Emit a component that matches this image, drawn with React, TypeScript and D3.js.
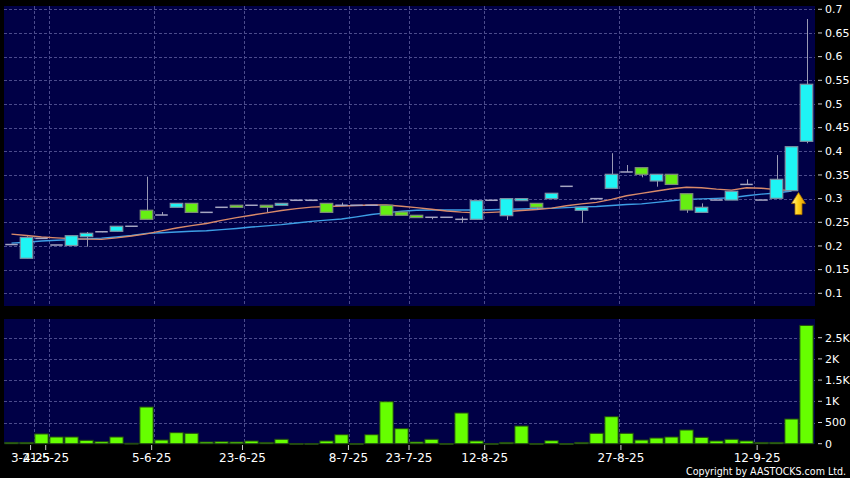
import React from 'react';
import * as d3 from 'd3';

if (typeof document !== 'undefined') {
  document.body.style.margin = '0';
  document.body.style.background = '#000';
}

// ---- data ----
const opens = [0.203,0.174,0.216,0.202,0.201,0.2196,0.230,0.231,0.2416,0.2754,
  0.2654,0.2817,0.290,0.271,0.2817,0.286,0.286,0.286,0.286,0.2965,
  0.2965,0.290,0.286,0.286,0.286,0.286,0.2717,0.2648,0.2606,0.2606,
  0.2563,0.2563,0.2965,0.264,0.2957,0.290,0.300,0.326,0.2754,0.300,
  0.3218,0.3563,0.3654,0.3373,0.3514,0.3104,0.271,0.297,0.297,0.330,
  0.297,0.3007,0.3168,0.4211];
const closes = [0.203,0.218,0.216,0.202,0.2217,0.2268,0.230,0.2416,0.2416,0.2563,
  0.2654,0.290,0.271,0.271,0.2817,0.2817,0.286,0.2817,0.290,0.2965,
  0.2965,0.271,0.286,0.286,0.286,0.2648,0.2648,0.260,0.2606,0.2606,
  0.2563,0.2957,0.2965,0.300,0.300,0.2817,0.3113,0.326,0.2817,0.300,
  0.3514,0.3563,0.3514,0.3514,0.330,0.276,0.2817,0.297,0.3155,0.330,
  0.297,0.3408,0.4097,0.5416];
const highs = [0.203,0.2205,0.216,0.202,0.2217,0.2295,0.230,0.2416,0.2416,0.3464,
  0.2717,0.290,0.290,0.271,0.2817,0.286,0.286,0.286,0.290,0.2965,
  0.2965,0.290,0.2915,0.286,0.286,0.286,0.2717,0.2648,0.2606,0.2606,
  0.2618,0.2957,0.2965,0.300,0.300,0.290,0.3113,0.326,0.2817,0.300,
  0.396,0.371,0.3654,0.3514,0.3514,0.3104,0.290,0.297,0.3155,0.3408,
  0.297,0.392,0.4097,0.6795];
const lows = [0.203,0.174,0.216,0.202,0.201,0.1985,0.229,0.231,0.2416,0.2563,
  0.2654,0.2817,0.271,0.271,0.2817,0.2817,0.286,0.2717,0.286,0.2965,
  0.2965,0.271,0.286,0.286,0.286,0.2648,0.2648,0.260,0.2563,0.2606,
  0.249,0.2563,0.2965,0.2549,0.2957,0.276,0.300,0.326,0.249,0.300,
  0.3218,0.3563,0.345,0.3253,0.330,0.270,0.271,0.297,0.297,0.330,
  0.297,0.3007,0.3168,0.417];
const volumes = [30,30,230,158,158,80,47,158,10,865,
  87,260,245,40,47,40,64,30,104,5,
  5,64,212,3,212,990,354,40,104,5,
  724,64,3,30,417,5,71,3,30,245,
  637,245,87,134,158,323,150,64,104,64,
  30,30,582,2790];
const maShort = [0.225,0.222,0.219,0.217,0.2155,0.2145,0.214,0.217,0.221,0.2255,
  0.232,0.238,0.243,0.2475,0.254,0.260,0.265,0.270,0.275,0.279,
  0.282,0.2835,0.2845,0.2855,0.2865,0.2865,0.284,0.281,0.2775,0.274,
  0.2715,0.270,0.271,0.2725,0.275,0.277,0.280,0.285,0.289,0.292,
  0.2985,0.306,0.311,0.316,0.321,0.324,0.323,0.320,0.318,0.323,
  0.322,0.319,0.317];
const maLong = [0.206,0.208,0.2105,0.212,0.2135,0.215,0.2165,0.219,0.222,0.2265,
  0.228,0.2295,0.231,0.232,0.2345,0.237,0.240,0.2425,0.245,0.2485,
  0.252,0.2545,0.257,0.2615,0.2665,0.270,0.2735,0.2755,0.276,0.276,
  0.276,0.276,0.2765,0.2775,0.278,0.279,0.2795,0.281,0.2825,0.2835,
  0.2855,0.2875,0.289,0.292,0.2955,0.2985,0.2995,0.3005,0.302,0.306,
  0.3095,0.312,0.316];
const tickIndex = [2, 3, 10, 16, 23, 27, 32, 41, 50];
const tickLabels = ['3-4-25', '21-5-25', '5-6-25', '23-6-25', '8-7-25', '23-7-25', '12-8-25', '27-8-25', '12-9-25'];

const FONT = '"DejaVu Sans", sans-serif';

export default function App() {
  const n = opens.length;
  const idx = d3.range(n);
  const x = d3.scaleBand<number>().domain(idx).range([4, 814]);
  const step = x.step();
  const cx = (i: number) => (x(i) as number) + step / 2;
  const labelX = d3.scaleLinear().domain([0, n]).range([0.3, 817.7]);
  const yP = d3.scaleLinear().domain([0.1, 0.7]).range([293.3, 9.3]);
  const yV = d3.scaleLinear().domain([0, 2500]).range([443.7, 337.7]);

  const pTicks = yP.ticks(12);
  const vTicks = yV.ticks(5);
  const fmtV = (v: number) => (v >= 1000 ? `${d3.format('~g')(v / 1000)}K` : `${v}`);

  const line = d3.line<number>().x((_, i) => cx(i)).y((d) => yP(d)).curve(d3.curveLinear);

  const main = { x: 4, y: 6, w: 811, h: 300 };
  const vol = { x: 4, y: 319, w: 811, h: 125 };
  const gridColor = '#4b4b8c';
  const candleW = 12.5;
  const volW = 13.3;

  const last = maShort.length - 1;
  const ax = cx(last) + step / 2 - 0.5;
  const ay = yP(maShort[last]) + 2;

  return (
    <svg width={850} height={478} style={{ display: 'block', background: '#000' }} fontFamily={FONT}>
      <defs>
        <linearGradient id="arrowGrad" x1="0" x2="1" y1="0" y2="0">
          <stop offset="0" stopColor="#fff6a8" />
          <stop offset="0.45" stopColor="#ffd21a" />
          <stop offset="1" stopColor="#e39a00" />
        </linearGradient>
      </defs>
      <rect x={0} y={0} width={850} height={478} fill="#000" />
      <rect x={main.x} y={main.y} width={main.w} height={main.h} fill="#000046" />
      <rect x={vol.x} y={vol.y} width={vol.w} height={vol.h} fill="#000046" />

      {/* horizontal grid */}
      {pTicks.map((t) => (
        <line key={'pg' + t} x1={main.x} x2={main.x + main.w} y1={Math.round(yP(t)) + 0.5} y2={Math.round(yP(t)) + 0.5}
          stroke={gridColor} strokeDasharray="3,2" />
      ))}
      {vTicks.filter((t) => t > 0).map((t) => (
        <line key={'vg' + t} x1={vol.x} x2={vol.x + vol.w} y1={Math.round(yV(t)) + 0.5} y2={Math.round(yV(t)) + 0.5}
          stroke={gridColor} strokeDasharray="3,2" />
      ))}
      {/* vertical grid */}
      {tickIndex.map((i) => (
        <g key={'vgl' + i}>
          <line x1={Math.round(x(i) as number) + 0.5} x2={Math.round(x(i) as number) + 0.5} y1={main.y} y2={main.y + main.h}
            stroke={gridColor} strokeDasharray="3,2" />
          <line x1={Math.round(x(i) as number) + 0.5} x2={Math.round(x(i) as number) + 0.5} y1={vol.y} y2={vol.y + vol.h}
            stroke={gridColor} strokeDasharray="3,2" />
        </g>
      ))}

      {/* moving averages */}
      <path d={line(maLong) as string} fill="none" stroke="#3d9fe6" strokeWidth={1.4} />
      <path d={line(maShort) as string} fill="none" stroke="#d98a6a" strokeWidth={1.4} />

      {/* candles */}
      {idx.map((i) => {
        const o = opens[i], c = closes[i], h = highs[i], l = lows[i];
        const xc = cx(i);
        const wick = h > l ? (
          <line x1={Math.round(xc) + 0.5} x2={Math.round(xc) + 0.5} y1={yP(h)} y2={yP(l)} stroke="#9a9ab4" strokeWidth={1} />
        ) : null;
        if (Math.abs(o - c) < 1e-9) {
          return (
            <g key={'c' + i}>
              {wick}
              <line x1={xc - candleW / 2} x2={xc + candleW / 2} y1={yP(c)} y2={yP(c)} stroke="#a6a6c2" strokeWidth={1.5} />
            </g>
          );
        }
        const up = c > o;
        const top = yP(Math.max(o, c));
        const bot = yP(Math.min(o, c));
        return (
          <g key={'c' + i}>
            {wick}
            <rect x={xc - candleW / 2} y={top} width={candleW} height={Math.max(1, bot - top)}
              fill={up ? '#1ff4f4' : '#66ee12'} stroke={up ? '#7d93a4' : '#7f8f78'} strokeWidth={1.2} />
          </g>
        );
      })}

      {/* arrow */}
      <path
        d={`M${ax},${ay} L${ax + 7},${ay + 11} L${ax + 3.5},${ay + 11} L${ax + 3.5},${ay + 22} L${ax - 3.5},${ay + 22} L${ax - 3.5},${ay + 11} L${ax - 7},${ay + 11} Z`}
        fill="url(#arrowGrad)" stroke="#a86f00" strokeWidth={0.8} />

      {/* volume bars */}
      {idx.map((i) => {
        const top = yV(volumes[i]);
        return (
          <rect key={'v' + i} x={cx(i) - volW / 2} y={top} width={volW} height={Math.max(0.8, yV(0) - top)}
            fill="#66ff00" stroke="#234a12" strokeWidth={1} />
        );
      })}

      {/* right axis */}
      {pTicks.map((t) => (
        <g key={'pl' + t}>
          <line x1={818} x2={822} y1={yP(t)} y2={yP(t)} stroke="#cccccc" />
          <text x={825} y={yP(t)} dy="0.35em" fill="#fff" fontSize={11}>{d3.format('~g')(t)}</text>
        </g>
      ))}
      {vTicks.map((t) => (
        <g key={'vl' + t}>
          <line x1={818} x2={822} y1={yV(t)} y2={yV(t)} stroke="#cccccc" />
          <text x={825} y={yV(t)} dy="0.35em" fill="#fff" fontSize={11}>{fmtV(t)}</text>
        </g>
      ))}

      {/* x axis labels */}
      {tickIndex.map((i, k) => (
        <g key={'xl' + i}>
          <line x1={labelX(i)} x2={labelX(i)} y1={445} y2={450} stroke="#cccccc" />
          <text x={labelX(i)} y={462} textAnchor="middle" fill="#fff" fontSize={12}>{tickLabels[k]}</text>
        </g>
      ))}

      <text x={846} y={475} textAnchor="end" fill="#fff" fontSize={11} textLength={160} lengthAdjust="spacingAndGlyphs">
        Copyright by AASTOCKS.com Ltd.
      </text>
    </svg>
  );
}
